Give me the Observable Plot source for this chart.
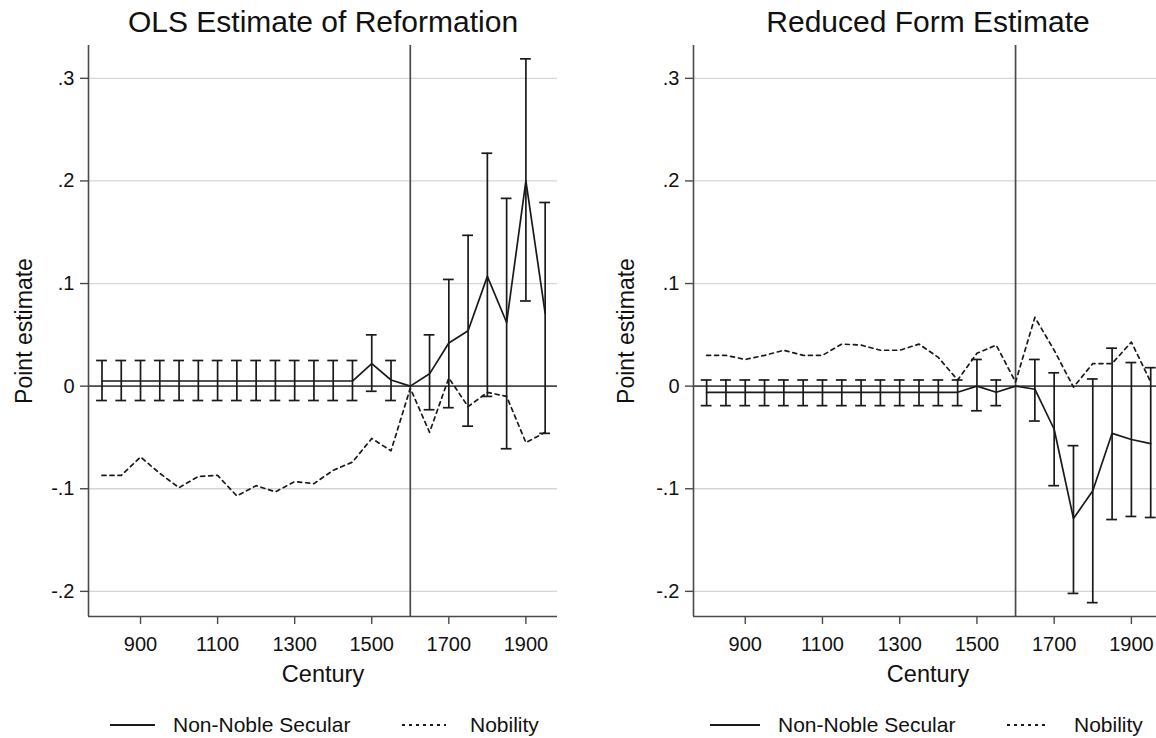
<!DOCTYPE html>
<html><head><meta charset="utf-8">
<script src="https://cdn.jsdelivr.net/npm/d3@7"></script>
<script src="https://cdn.jsdelivr.net/npm/@observablehq/plot@0.6"></script>
<style>
body{margin:0;background:#fff;font-family:'Liberation Sans',Arial,sans-serif;}
#wrap{display:flex;width:1156px;height:738px;overflow:hidden;}
.panel{position:relative;width:578px;height:738px;overflow:hidden;}
.panel > svg{display:block;}
.legend{position:absolute;left:0;top:690px;width:578px;height:48px;}
.legend svg{position:absolute;}
.legend span{position:absolute;font-size:21px;line-height:22px;top:24px;color:#111;white-space:nowrap;}
</style></head><body>
<div id="wrap"><div class="panel" id="p1"></div><div class="panel" id="p2"></div></div>
<script>
// ---- data ----
const centuries = [800,850,900,950,1000,1050,1100,1150,1200,1250,1300,1350,1400,1450,1500,1550,1600,1650,1700,1750,1800,1850,1900,1950];

const olsSecular = [0.005,0.005,0.005,0.005,0.005,0.005,0.005,0.005,0.005,0.005,0.005,0.005,0.005,0.005,0.022,0.006,0,0.012,0.042,0.054,0.107,0.062,0.200,0.071];
const olsSecularLo = [-0.014,-0.014,-0.014,-0.014,-0.014,-0.014,-0.014,-0.014,-0.014,-0.014,-0.014,-0.014,-0.014,-0.014,-0.005,-0.014,null,-0.023,-0.021,-0.039,-0.010,-0.061,0.083,-0.046];
const olsSecularHi = [0.025,0.025,0.025,0.025,0.025,0.025,0.025,0.025,0.025,0.025,0.025,0.025,0.025,0.025,0.050,0.025,null,0.050,0.104,0.147,0.227,0.183,0.319,0.179];
const olsNobility = [-0.087,-0.087,-0.069,-0.085,-0.099,-0.088,-0.087,-0.107,-0.097,-0.103,-0.093,-0.095,-0.082,-0.074,-0.051,-0.063,-0.002,-0.045,0.008,-0.020,-0.006,-0.010,-0.055,-0.045];

const rfSecular = [-0.006,-0.006,-0.006,-0.006,-0.006,-0.006,-0.006,-0.006,-0.006,-0.006,-0.006,-0.006,-0.006,-0.006,0.000,-0.006,0,-0.003,-0.042,-0.129,-0.102,-0.046,-0.052,-0.056];
const rfSecularLo = [-0.019,-0.019,-0.019,-0.019,-0.019,-0.019,-0.019,-0.019,-0.019,-0.019,-0.019,-0.019,-0.019,-0.019,-0.024,-0.019,null,-0.034,-0.097,-0.202,-0.211,-0.130,-0.127,-0.128];
const rfSecularHi = [0.006,0.006,0.006,0.006,0.006,0.006,0.006,0.006,0.006,0.006,0.006,0.006,0.006,0.006,0.026,0.006,null,0.026,0.013,-0.058,0.007,0.037,0.023,0.018];
const rfNobility = [0.030,0.030,0.026,0.030,0.035,0.030,0.030,0.041,0.040,0.035,0.035,0.041,0.028,0.006,0.032,0.040,0.004,0.067,0.035,-0.001,0.022,0.022,0.043,0.004];

const yTicks = [-0.2,-0.1,0,0.1,0.2,0.3];
const yTickLabels = ["-.2","-.1","0",".1",".2",".3"];
const xTicks = [900,1100,1300,1500,1700,1900];
const xTickLabels = ["900","1100","1300","1500","1700","1900"];
const seriesNames = ["Non-Noble Secular","Nobility"];
const titles = ["OLS Estimate of Reformation","Reduced Form Estimate"];
const yLabel = "Point estimate";
const xLabel = "Century";
const refYear = 1600;

// ---- drawing ----
const yDomain = [-0.2245, 0.332];
const ink = "#1a1a1a", axisInk = "#4a4a4a";

function panel(el, o) {
  const data = centuries.map((c, i) => ({c, est: o.est[i], lo: o.lo[i], hi: o.hi[i], nob: o.nob[i]}));
  const bars = data.filter(d => d.lo != null);
  const cap = 14;
  const chart = Plot.plot({
    width: 578, height: 690,
    marginTop: 45, marginBottom: 74, marginLeft: o.ml, marginRight: o.mr,
    x: {domain: o.xDomain},
    y: {domain: yDomain},
    style: {fontFamily: "'Liberation Sans', Arial, sans-serif", fontSize: "20px", color: "#111", background: "#fff"},
    marks: [
      Plot.gridY(yTicks, {stroke: "#d6d6d6", strokeOpacity: 1, strokeWidth: 1.3}),
      Plot.ruleY([0], {stroke: axisInk, strokeWidth: 1.6}),
      Plot.ruleX([refYear], {stroke: axisInk, strokeWidth: 1.7}),
      Plot.ruleX(bars, {x: "c", y1: "lo", y2: "hi", stroke: ink, strokeWidth: 1.7}),
      Plot.ruleY(bars, {y: "hi", x1: d => d.c - cap, x2: d => d.c + cap, stroke: ink, strokeWidth: 1.7}),
      Plot.ruleY(bars, {y: "lo", x1: d => d.c - cap, x2: d => d.c + cap, stroke: ink, strokeWidth: 1.7}),
      Plot.line(data, {x: "c", y: "nob", stroke: ink, strokeWidth: 1.7, strokeDasharray: "4,4"}),
      Plot.line(data, {x: "c", y: "est", stroke: ink, strokeWidth: 1.7}),
      Plot.ruleX([o.xDomain[0]], {stroke: axisInk, strokeWidth: 1.6}),
      Plot.ruleY([yDomain[0]], {stroke: axisInk, strokeWidth: 1.6}),
      Plot.axisY({ticks: yTicks, tickFormat: d => yTickLabels[yTicks.indexOf(d)], tickSize: 8, tickPadding: 6, fontSize: 20, label: null, stroke: axisInk, strokeWidth: 1.4}),
      Plot.axisX({ticks: xTicks, tickFormat: d => xTickLabels[xTicks.indexOf(d)], tickSize: 8, tickPadding: 12, fontSize: 20, label: null, stroke: axisInk, strokeWidth: 1.4}),
      Plot.text([o.title], {text: d => d, frameAnchor: "top", lineAnchor: "middle", textAnchor: "middle", dy: -23, dx: o.tdx, fontSize: 30, fill: "#111"}),
      Plot.text([yLabel], {text: d => d, frameAnchor: "left", lineAnchor: "middle", textAnchor: "middle", rotate: -90, dx: o.ydx, fontSize: 23, fill: "#111"}),
      Plot.text([xLabel], {text: d => d, frameAnchor: "bottom", lineAnchor: "middle", textAnchor: "middle", dy: 58, dx: o.tdx, fontSize: 23.5, fill: "#111"})
    ]
  });
  el.appendChild(chart);
  const lg = document.createElement("div");
  lg.className = "legend";
  const L = o.legend;
  lg.innerHTML =
    `<svg style="left:${L[0]}px;top:33px" width="${L[1]-L[0]}" height="4"><line x1="0" y1="2" x2="${L[1]-L[0]}" y2="2" stroke="${ink}" stroke-width="2"/></svg>` +
    `<span style="left:${L[2]}px">${seriesNames[0]}</span>` +
    `<svg style="left:${L[3]}px;top:33px" width="${L[4]-L[3]}" height="4"><line x1="0" y1="2" x2="${L[4]-L[3]}" y2="2" stroke="${ink}" stroke-width="2" stroke-dasharray="3,4"/></svg>` +
    `<span style="left:${L[5]}px">${seriesNames[1]}</span>`;
  el.appendChild(lg);
}

panel(document.getElementById("p1"), {
  est: olsSecular, lo: olsSecularLo, hi: olsSecularHi, nob: olsNobility,
  title: titles[0], xDomain: [765, 1982], ml: 88, mr: 21, tdx: 0, ydx: -64,
  legend: [110, 155, 173, 402, 446, 470]
});
panel(document.getElementById("p2"), {
  est: rfSecular, lo: rfSecularLo, hi: rfSecularHi, nob: rfNobility,
  title: titles[1], xDomain: [766, 1965], ml: 115, mr: 0, tdx: 3, ydx: -67,
  legend: [132, 182, 200, 429, 469, 496]
});
</script>
</body></html>
